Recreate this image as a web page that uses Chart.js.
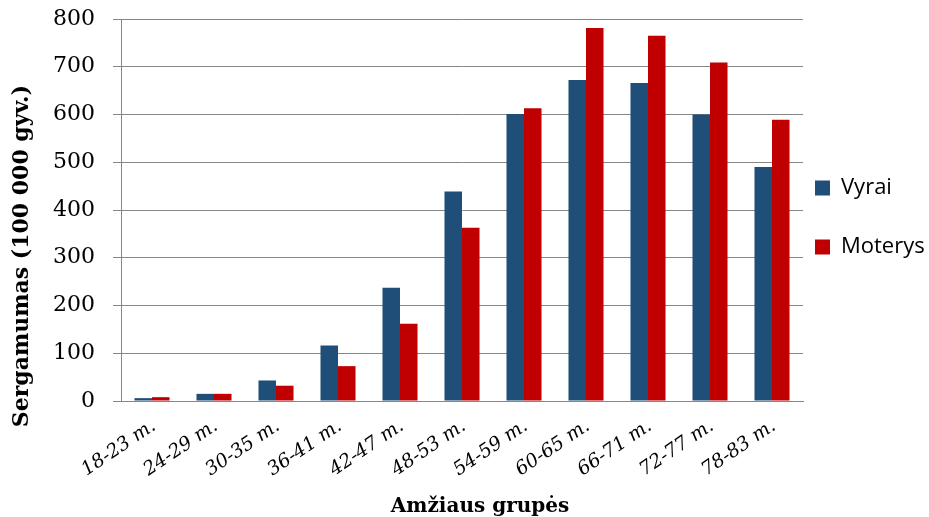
<!DOCTYPE html>
<html><head><meta charset="utf-8">
<script src="https://cdn.jsdelivr.net/npm/chart.js@4/dist/chart.umd.min.js"></script>
<style>html,body{margin:0;padding:0;background:#fff}#wrap{width:929px;height:517px}</style>
</head><body><div id="wrap"><canvas id="c" width="929" height="517"></canvas></div>
<script>
const categories = ["18-23 m.","24-29 m.","30-35 m.","36-41 m.","42-47 m.","48-53 m.","54-59 m.","60-65 m.","66-71 m.","72-77 m.","78-83 m."];
const vyrai   = [6, 15, 43, 116, 237, 439, 601, 672, 666, 600, 490];
const moterys = [8, 15, 32, 73, 162, 363, 613, 781, 765, 709, 589];
const seriesNames = ["Vyrai","Moterys"];
const yTitle = "Sergamumas (100 000 gyv.)";
const xTitle = "Amžiaus grupės";

const layoutPlugin = {
  id:'layoutFix',
  afterInit(chart){
    const lg = chart.legend; const f = lg.fit;
    lg.fit = function(){ f.call(this); this.width = 126; };
  },
  afterLayout(chart){
    const lg = chart.legend;
    const H = lg.bottom - lg.top;
    lg.top = (435 - H) / 2; lg.bottom = lg.top + H;
    lg.left = 778; lg.right = 929; lg.width = 151;
  },
  afterDraw(chart){
    const ctx = chart.ctx; ctx.save();
    ctx.fillStyle = '#000';
    ctx.font = 'bold 20px "DejaVu Serif"';
    ctx.textAlign = 'center'; ctx.textBaseline = 'alphabetic';
    ctx.fillText(xTitle, 480, 512);
    ctx.translate(22, 256); ctx.rotate(-Math.PI/2);
    ctx.font = 'bold 22px "DejaVu Serif"';
    ctx.textBaseline = 'middle';
    ctx.fillText(yTitle, 0, 0); ctx.restore();
  }
};

new Chart(document.getElementById('c'), {
  type:'bar',
  data:{ labels:categories, datasets:[
    {label:seriesNames[0], data:vyrai, backgroundColor:'#1F4E79', borderWidth:0},
    {label:seriesNames[1], data:moterys, backgroundColor:'#C00000', borderWidth:0}
  ]},
  options:{
    responsive:false, animation:false,
    layout:{padding:{left:0,right:0,top:19,bottom:0}},
    datasets:{bar:{categoryPercentage:0.565, barPercentage:1}},
    plugins:{
      tooltip:{enabled:false},
      legend:{position:'right', align:'center',
        labels:{boxWidth:15, boxHeight:15, padding:37, color:'#000',
          font:{family:'"Open Sans"', size:22}}}
    },
    scales:{
      x:{
        grid:{display:false, drawTicks:false},
        border:{display:true, color:'#868686', width:1},
        ticks:{color:'#000', font:{family:'"DejaVu Serif"', style:'italic', size:19}, minRotation:34, maxRotation:34, padding:14, labelOffset:2},
        afterFit(s){ s.height = 116; s.paddingLeft = 0; s.paddingRight = 0; }
      },
      y:{
        min:0, max:800,
        ticks:{stepSize:100, color:'#000', font:{family:'"DejaVu Serif"', size:22}, padding:18},
        grid:{color:'#868686', lineWidth:1, tickLength:8, drawTicks:true},
        border:{display:true, color:'#868686', width:1},
        afterFit(s){ s.width = 121; s.paddingTop = 0; s.paddingBottom = 0; }
      }
    }
  },
  plugins:[layoutPlugin]
});
</script></body></html>
